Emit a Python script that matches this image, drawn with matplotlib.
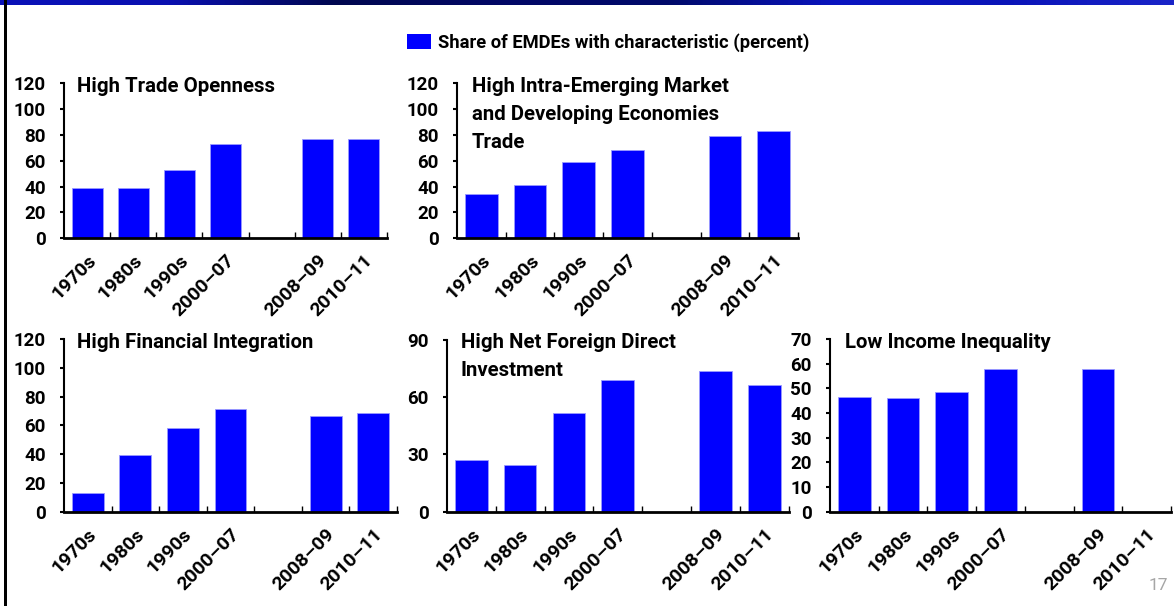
import numpy as np
import matplotlib.pyplot as plt
from matplotlib.patches import Rectangle
from matplotlib.colors import LinearSegmentedColormap
from matplotlib.transforms import offset_copy, ScaledTranslation

# Periods; slot 4 is left empty between 2000-07 and 2008-09
periods = ["1970s", "1980s", "1990s", "2000\u201307", "2008\u201309", "2010\u201311"]
slots = [0, 1, 2, 3, 5, 6]

trade_openness = [39, 39, 53, 73, 77, 76.5]
intra_emde_trade = [34, 41, 59, 68, 79.5, 83]
financial_integration = [13, 39.5, 58.5, 71.5, 66.5, 68.5]
net_fdi = [27, 24.5, 51.5, 69, 74, 66.5]
low_inequality = [46.5, 46, 48.5, 58, 58, np.nan]

titles = [
    "High Trade Openness",
    "High Intra-Emerging Market\nand Developing Economies\nTrade",
    "High Financial Integration",
    "High Net Foreign Direct\nInvestment",
    "Low Income Inequality",
]
ymax = [120, 120, 120, 90, 70]
ystep = [20, 20, 20, 30, 10]

plt.rcParams["font.family"] = ["Roboto", "DejaVu Sans"]
plt.rcParams["font.weight"] = "bold"

W, H = 1174, 606
fig = plt.figure(figsize=(W / 100, H / 100), dpi=100)

# axes boxes in pixels: left, right, top, bottom
boxes = [
    (64, 387, 83.3, 238.3),
    (457, 798, 83.3, 238.3),
    (64, 397, 339, 511.7),
    (446.7, 789, 340, 511.7),
    (830, 1171, 339, 511.7),
]
series = [trade_openness, intra_emde_trade, financial_integration, net_fdi, low_inequality]
title_dx = [13, 14.5, 13, 14, 15]

# nudge for the rotated period labels (inches)
label_shift = ScaledTranslation(6 / 100, -3 / 100, fig.dpi_scale_trans)

for box, vals, title, top, step, dx in zip(boxes, series, titles, ymax, ystep, title_dx):
    l, r, t, b = box
    ax = fig.add_axes([l / W, (H - b) / H, (r - l) / W, (b - t) / H])
    ax.bar(slots, vals, width=0.67, color="#0000ff", edgecolor="#9a9aff", linewidth=0.6)
    ax.set_xlim(-0.5, 6.5)
    ax.set_ylim(0, top)
    ax.set_yticks(np.arange(0, top + 1, step))
    ax.set_xticks(slots)
    ax.set_xticks(np.arange(0.5, 7, 1), minor=True)
    ax.tick_params(axis="x", which="major", length=0, pad=12, labelsize=14)
    ax.tick_params(axis="x", which="minor", direction="in", length=4, width=1)
    ax.tick_params(axis="y", direction="out", length=3, width=1.5, pad=10, labelsize=13.5)
    ax.set_xticklabels(periods, rotation=45, ha="right", va="center",
                       rotation_mode="anchor")
    for tick in ax.xaxis.get_major_ticks():
        tick.label1.set_transform(tick.label1.get_transform() + label_shift)
    for s in ["top", "right"]:
        ax.spines[s].set_visible(False)
    ax.spines["left"].set_linewidth(1.5)
    ax.spines["bottom"].set_linewidth(2)
    ax.set_facecolor("none")
    tr = offset_copy(ax.transAxes, fig=fig, x=dx, y=6.5, units="dots")
    ax.text(0, 1, title, transform=tr, fontsize=14.7, fontweight="bold",
            ha="left", va="top", linespacing=1.6)

# legend
fig.add_artist(Rectangle((407 / W, (H - 49) / H), 24 / W, 15 / H,
                         transform=fig.transFigure, facecolor="#0000ff",
                         edgecolor="none"))
fig.text(438 / W, (H - 42.5) / H, "Share of EMDEs with characteristic (percent)",
         fontsize=13.2, fontweight="bold", ha="left", va="center")

# slide page number
fig.text(1168 / W, (H - 585) / H, "17", fontsize=12.5, fontweight="normal",
         color="#a6a6a6", ha="right", va="center")

# slide header band and left frame
band = fig.add_axes([0, (H - 5) / H, 1, 5 / H])
cmap = LinearSegmentedColormap.from_list(
    "band", ["#0a12b8", "#0a10b0", "#00074f", "#020766", "#000a6a", "#0a14c0",
             "#0a14b8", "#1a24c8"])
band.imshow(np.linspace(0, 1, 512)[None, :], aspect="auto", cmap=cmap)
band.axis("off")
fig.add_artist(Rectangle((4 / W, 0), 3 / W, 1, transform=fig.transFigure,
                         facecolor="black", edgecolor="none"))

fig.savefig("out.png", dpi=100)
